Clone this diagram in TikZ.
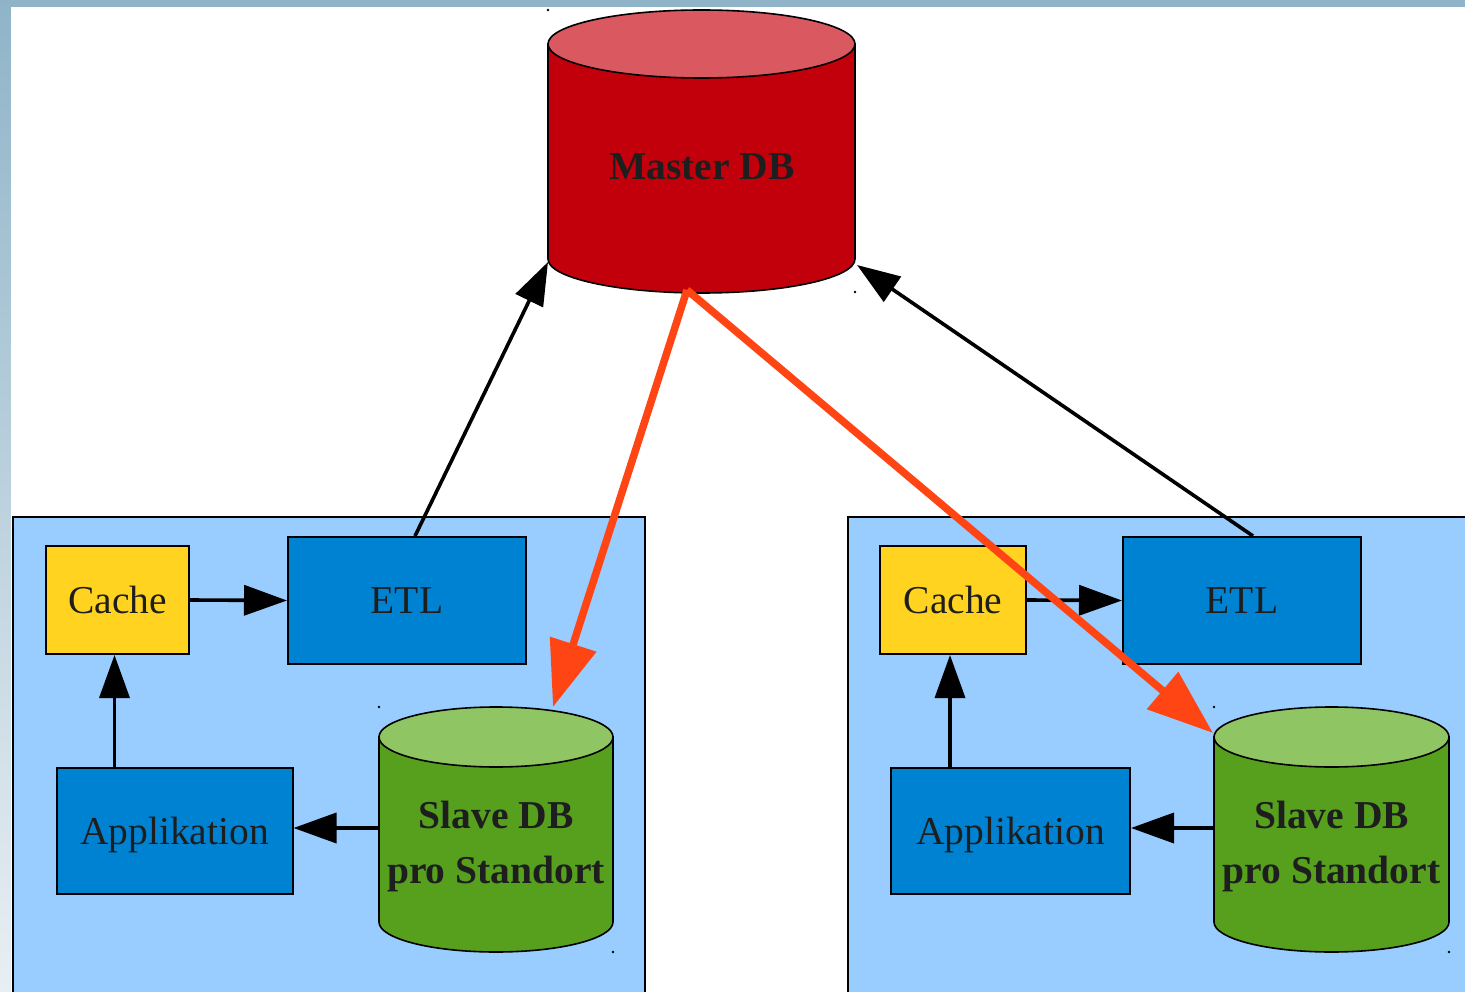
\documentclass[tikz,border=0pt]{standalone}
\usepackage{fontspec}
\setmainfont{Liberation Serif}
\usetikzlibrary{arrows.meta,calc}

\definecolor{framebar}{HTML}{8FB4C8}
\definecolor{framelow}{HTML}{E8EFF3}
\definecolor{sitefill}{HTML}{99CCFF}
\definecolor{cachefill}{HTML}{FFD320}
\definecolor{procfill}{HTML}{0082D2}
\definecolor{masterbody}{HTML}{C2000B}
\definecolor{mastertop}{HTML}{DA5860}
\definecolor{slavebody}{HTML}{56A01E}
\definecolor{slavetop}{HTML}{8FC563}
\definecolor{syncred}{HTML}{FF4513}
\definecolor{labelink}{HTML}{1E1E1E}

\begin{document}
\begin{tikzpicture}[x=1pt,y=-1pt,
  site/.style={draw=black,line width=1.8pt,fill=sitefill},
  proc/.style={draw=black,line width=2pt,inner sep=0pt,text=labelink,
    font=\fontsize{39.5}{47}\selectfont,text depth=0pt},
  cachebox/.style={proc,fill=cachefill,minimum width=143pt,minimum height=108pt},
  etlbox/.style={proc,fill=procfill,minimum width=238pt,minimum height=127pt},
  appbox/.style={proc,fill=procfill,minimum width=236pt,minimum height=126pt},
  cyl/.style={draw=black,line width=1.6pt},
  dblabel/.style={inner sep=0pt,text=labelink,align=center,
    font=\fontsize{39.5}{55}\selectfont\bfseries},
  flow/.style={line width=3.6pt,-{Triangle[length=43pt,width=30pt]}},
  sync/.style={line width=7.5pt,draw=syncred,
    -{Triangle[length=66pt,width=47pt,fill=syncred]}},
  pin/.style={fill=black},
]
\useasboundingbox (0,0) rectangle (1465,992);
\clip (0,0) rectangle (1465,992);

% slide frame: bar along the top, shaded strip on the left, white page
\fill[framebar] (0,0) rectangle (1465,7);
\shade[top color=framebar,bottom color=framelow] (0,0) rectangle (11,992);
\fill[white] (11,7) rectangle (1465,992);

% the two sites
\draw[site] (13,517) rectangle (645,1010);
\draw[site] (848,517) rectangle (1480,1010);

% master database
\filldraw[cyl,fill=masterbody] (548,44) -- (548,259)
  arc[start angle=180,end angle=360,x radius=153.5pt,y radius=34pt]
  -- (855,44) -- cycle;
\filldraw[cyl,fill=mastertop] (701.5,44) ellipse[x radius=153.5pt,y radius=34pt];
\node[dblabel] (master) at (702,167) {Master DB};

% slave database, left site
\filldraw[cyl,fill=slavebody] (379,737) -- (379,922)
  arc[start angle=180,end angle=360,x radius=117pt,y radius=30pt]
  -- (613,737) -- cycle;
\filldraw[cyl,fill=slavetop] (496,737) ellipse[x radius=117pt,y radius=30pt];
\node[dblabel] (slaveL) at (496,846) {Slave DB\\pro Standort};

% slave database, right site
\filldraw[cyl,fill=slavebody] (1214,737) -- (1214,922)
  arc[start angle=180,end angle=360,x radius=117.5pt,y radius=30pt]
  -- (1449,737) -- cycle;
\filldraw[cyl,fill=slavetop] (1331.5,737) ellipse[x radius=117.5pt,y radius=30pt];
\node[dblabel] (slaveR) at (1331.5,846) {Slave DB\\pro Standort};

% boxes of the left site
\node[cachebox] (cacheL) at (117.5,600) {Cache};
\node[etlbox]   (etlL)   at (407,600.5) {ETL};
\node[appbox]   (appL)   at (174.5,831) {Applikation};

% boxes of the right site
\node[cachebox,minimum width=146pt] (cacheR) at (953,600) {Cache};
\node[etlbox]   (etlR)   at (1242,600.5) {ETL};
\node[appbox,minimum width=239pt] (appR) at (1010.5,831) {Applikation};

% attachment points on the cylinders
\coordinate (masterSW)  at (548,262);
\coordinate (masterSE)  at (857,265);
\coordinate (masterBot) at (687,290);
\coordinate (slaveLtop) at (553,707);
\coordinate (slaveRtop) at (1213,733);
\coordinate (slaveLw)   at (379,828);
\coordinate (slaveRw)   at (1214,828);

% small corner marks of the database shapes
\foreach \p in {(548,10),(855,292),(379,707),(613,952),(1214,707),(1449,952)}
  \fill[pin] \p circle[radius=1.3pt];

% data flow inside each site and up to the master
\draw[flow] (cacheL.east) -- (etlL.west);
\draw[flow] ([xshift=-3pt]cacheL.south |- appL.north) -- ([xshift=-3pt]cacheL.south);
\draw[flow] (slaveLw) -- (slaveLw -| appL.east);
\draw[flow] ([xshift=8pt]etlL.north) -- (masterSW);

\draw[flow] (cacheR.east) -- (etlR.west);
\draw[flow] ([xshift=-3pt]cacheR.south |- appR.north) -- ([xshift=-3pt]cacheR.south);
\draw[flow] (slaveRw) -- (slaveRw -| appR.east);
\draw[flow] ([xshift=11pt]etlR.north) -- (masterSE);

% replication from the master to the site databases
\draw[sync] (masterBot) -- (slaveLtop);
\draw[sync] (masterBot) -- (slaveRtop);
\end{tikzpicture}
\end{document}
